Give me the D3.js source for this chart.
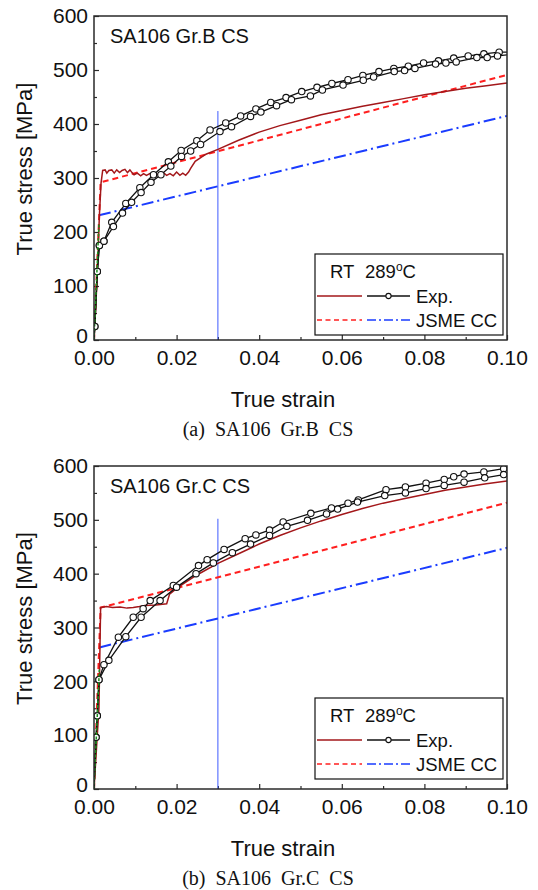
<!DOCTYPE html>
<html>
<head>
<meta charset="utf-8">
<script src="https://cdn.jsdelivr.net/npm/d3@7"></script>
<style>
  body { margin: 0; background: #fff; }
  svg { display: block; }
  text { font-family: "Liberation Sans", Arial, sans-serif; fill: #111; }
</style>
</head>
<body>
<div id="chart"></div>
<script>
// axis ticks
const strainTicks = [0, 0.02, 0.04, 0.06, 0.08, 0.10];
const strainMinor = [0.01, 0.03, 0.05, 0.07, 0.09];
const stressTicks = [0, 100, 200, 300, 400, 500, 600];
const stressMinor = [50, 150, 250, 350, 450, 550];

// (a) SA106 Gr.B CS  -- [strain, stress MPa]
const gradeB_rtExp = [[0,0],[0.0008,120],[0.0013,230],[0.0017,290],[0.0021,314],[0.0027,315],[0.0031,309],[0.0036,314],[0.0043,315],[0.0049,309],[0.0055,315],[0.0062,310],[0.0068,314],[0.0075,316],[0.0081,310],[0.0087,315],[0.0092,310],[0.0097,306],[0.0105,309],[0.0113,304],[0.012,308],[0.0127,305],[0.0135,308],[0.0143,304],[0.015,308],[0.0158,305],[0.0168,310],[0.0176,305],[0.0184,308],[0.0192,304],[0.02,311],[0.0208,305],[0.0215,309],[0.0222,305],[0.0229,311],[0.0234,318],[0.0245,331],[0.0271,344],[0.03,353],[0.035,370],[0.04,385],[0.045,397],[0.05,407],[0.055,417],[0.06,425],[0.065,433],[0.07,440],[0.075,447],[0.08,454],[0.085,460],[0.09,466],[0.095,471],[0.1,476]];
const gradeB_hotExp1 = [[0,0],[0.0002,25],[0.0008,127],[0.0013,175],[0.0024,183],[0.0043,218],[0.0077,253],[0.0111,282],[0.0144,306],[0.018,330],[0.0211,351],[0.0249,369],[0.0281,389],[0.0319,402],[0.0355,415],[0.0392,428],[0.0428,440],[0.0465,449],[0.0503,460],[0.054,468],[0.0576,475],[0.0615,482],[0.0651,490],[0.069,497],[0.0726,503],[0.0761,507],[0.0798,513],[0.0834,517],[0.0871,522],[0.0906,526],[0.0944,530],[0.0981,533],[0.1,533]];
const gradeB_hotExp2 = [[0,0],[0.0002,25],[0.0008,127],[0.0013,175],[0.0024,183],[0.0047,210],[0.0069,235],[0.0091,255],[0.0114,273],[0.0138,292],[0.0162,306],[0.0186,322],[0.0212,340],[0.0234,350],[0.0258,362],[0.0305,386],[0.0333,395],[0.0379,414],[0.0404,422],[0.0442,434],[0.0478,445],[0.0524,452],[0.0553,463],[0.0603,472],[0.0652,481],[0.0677,487],[0.0727,497],[0.0752,499],[0.0777,503],[0.0827,511],[0.0852,513],[0.0877,515],[0.0927,523],[0.0952,523],[0.0977,526],[0.1,528]];
const gradeB_rtJsme = [[0,0],[0.0016,292],[0.1,491]];
const gradeB_hotJsme = [[0.0012,231],[0.1,415]];
const gradeB_elastic = [[0,0],[0.0012,215]];
const gradeB_cutoffTop = 424;

// (b) SA106 Gr.C CS
const gradeC_rtExp = [[0,0],[0.0012,150],[0.0016,337],[0.003,339],[0.0045,337],[0.0063,338],[0.008,336],[0.0095,337],[0.011,339],[0.0123,341],[0.015,342],[0.0176,344],[0.0183,362],[0.0204,375],[0.025,398],[0.03,419],[0.035,437],[0.04,455],[0.045,471],[0.05,485],[0.055,498],[0.06,510],[0.065,521],[0.07,531],[0.075,539],[0.08,547],[0.085,555],[0.09,561],[0.095,567],[0.1,572]];
const gradeC_hotExp1 = [[0,0],[0.0005,96],[0.0008,136],[0.0012,203],[0.0024,231],[0.0059,282],[0.0095,319],[0.0119,335],[0.0136,350],[0.0192,378],[0.0253,415],[0.0274,426],[0.0315,445],[0.0366,465],[0.0392,472],[0.0425,481],[0.0458,496],[0.0525,512],[0.0575,522],[0.0615,531],[0.064,537],[0.0707,556],[0.0754,561],[0.0804,568],[0.0848,575],[0.0871,580],[0.0896,585],[0.0944,589],[0.0992,595],[0.1,597]];
const gradeC_hotExp2 = [[0,0],[0.0005,96],[0.0008,136],[0.0012,203],[0.0036,239],[0.0077,283],[0.0114,319],[0.016,350],[0.02,375],[0.0247,400],[0.0289,420],[0.0335,439],[0.0379,455],[0.0425,471],[0.0467,488],[0.0517,499],[0.0563,511],[0.059,520],[0.0638,533],[0.0704,545],[0.0754,550],[0.0804,558],[0.0848,564],[0.0896,570],[0.0946,578],[0.0992,584],[0.1,585]];
const gradeC_rtJsme = [[0,0],[0.0016,337],[0.1,532]];
const gradeC_hotJsme = [[0.0013,263],[0.1,448]];
const gradeC_elastic = [[0,0],[0.0013,222]];
const gradeC_cutoffTop = 502;

const cutoffStrain = 0.03;

const panels = [
  {top: 16, bottom: 340, title: 'SA106 Gr.B CS', caption: '(a)  SA106  Gr.B  CS', legendGap: 5,
   rtExp: gradeB_rtExp, hot1: gradeB_hotExp1, hot2: gradeB_hotExp2, rtJsme: gradeB_rtJsme,
   hotJsme: gradeB_hotJsme, elastic: gradeB_elastic, cutoffTop: gradeB_cutoffTop},
  {top: 466, bottom: 789, title: 'SA106 Gr.C CS', caption: '(b)  SA106  Gr.C  CS', legendGap: 10,
   rtExp: gradeC_rtExp, hot1: gradeC_hotExp1, hot2: gradeC_hotExp2, rtJsme: gradeC_rtJsme,
   hotJsme: gradeC_hotJsme, elastic: gradeC_elastic, cutoffTop: gradeC_cutoffTop}
];

const width = 538, height = 890;
const left = 94, right = 507;
const colors = {rt: '#a3171a', hot: '#111', rtJsme: '#ff1f1f', hotJsme: '#1a3cff', cut: '#3d5bff', green: '#1b8f1b', frame: '#2a2a2a'};

const svg = d3.select('#chart').append('svg')
  .attr('width', width)
  .attr('height', height);

const x = d3.scaleLinear().domain([0, 0.1]).range([left, right]);

panels.forEach((p, pi) => {
  const y = d3.scaleLinear().domain([0, 600]).range([p.bottom, p.top]);
  const g = svg.append('g');

  const clipId = 'clip' + pi;
  g.append('clipPath').attr('id', clipId)
    .append('rect')
    .attr('x', left).attr('y', p.top)
    .attr('width', right - left).attr('height', p.bottom - p.top);

  // axes, ticks pointing inward
  g.append('g').attr('transform', `translate(0,${p.bottom})`)
    .call(d3.axisBottom(x).tickValues(strainTicks).tickSize(-5).tickPadding(10).tickFormat(d3.format('.2f')));
  g.append('g').attr('transform', `translate(0,${p.bottom})`)
    .call(d3.axisBottom(x).tickValues(strainMinor).tickSize(-3).tickFormat(''));
  const yAxis = g.append('g').attr('transform', `translate(${left},0)`)
    .call(d3.axisLeft(y).tickValues(stressTicks).tickSize(-5).tickPadding(6).tickFormat(d3.format('d')));
  g.append('g').attr('transform', `translate(${left},0)`)
    .call(d3.axisLeft(y).tickValues(stressMinor).tickSize(-3).tickFormat(''));

  g.selectAll('.domain').remove();
  g.selectAll('.tick line').attr('stroke', colors.frame).attr('stroke-width', 1.2);
  g.selectAll('.tick text').style('font-size', '21px').attr('fill', '#111');
  // the "0" sits right on the corner, lift it a little off the 0.00 label
  yAxis.selectAll('.tick text').filter(d => d === 0).attr('dy', '0.1em');

  // axis titles
  g.append('text')
    .attr('x', 283).attr('y', p.bottom + 67)
    .attr('text-anchor', 'middle')
    .style('font-size', '22px')
    .text('True strain');
  g.append('text')
    .attr('transform', `translate(32,${(p.top + p.bottom) / 2 - 9}) rotate(-90)`)
    .attr('text-anchor', 'middle')
    .style('font-size', '22px')
    .text('True stress [MPa]');

  // caption under each panel
  g.append('text')
    .attr('x', 268).attr('y', p.bottom + 96)
    .attr('text-anchor', 'middle')
    .style('font-family', '"Liberation Serif", "Times New Roman", serif')
    .style('font-size', '20px')
    .style('white-space', 'pre')
    .text(p.caption);

  const plot = g.append('g').attr('clip-path', `url(#${clipId})`);
  const line = d3.line().x(d => x(d[0])).y(d => y(d[1]));

  // 3% strain guide
  plot.append('line')
    .attr('x1', x(cutoffStrain)).attr('x2', x(cutoffStrain))
    .attr('y1', y(0)).attr('y2', y(p.cutoffTop))
    .attr('stroke', colors.cut).attr('stroke-width', 1);

  plot.append('path').datum(p.hotJsme)
    .attr('d', line).attr('fill', 'none')
    .attr('stroke', colors.hotJsme).attr('stroke-width', 2)
    .attr('stroke-dasharray', '12,4,2,4');

  plot.append('path').datum(p.rtJsme)
    .attr('d', line).attr('fill', 'none')
    .attr('stroke', colors.rtJsme).attr('stroke-width', 2)
    .attr('stroke-dasharray', '6,4');

  plot.append('path').datum(p.rtExp)
    .attr('d', line).attr('fill', 'none')
    .attr('stroke', colors.rt).attr('stroke-width', 1.5);

  [p.hot1, p.hot2].forEach(s => {
    plot.append('path').datum(s)
      .attr('d', line).attr('fill', 'none')
      .attr('stroke', colors.hot).attr('stroke-width', 1.3);
  });
  [p.hot1, p.hot2].forEach(s => {
    plot.selectAll(null)
      .data(s.slice(1, -1))
      .enter().append('circle')
      .attr('cx', d => x(d[0])).attr('cy', d => y(d[1]))
      .attr('r', 3.2)
      .attr('fill', '#fff').attr('stroke', colors.hot).attr('stroke-width', 1.1);
  });

  plot.append('path').datum(p.elastic)
    .attr('d', line).attr('fill', 'none')
    .attr('stroke', colors.green).attr('stroke-width', 1.5)
    .attr('stroke-dasharray', '3,1.5');

  // frame
  g.append('rect')
    .attr('x', left).attr('y', p.top)
    .attr('width', right - left).attr('height', p.bottom - p.top)
    .attr('fill', 'none').attr('stroke', colors.frame).attr('stroke-width', 1.5);

  // title inside plot
  g.append('text')
    .attr('x', left + 16).attr('y', p.top + 26.5)
    .style('font-size', '20px')
    .text(p.title);

  // legend
  const lx = 315, lw = 188, lh = 81;
  const ly = p.bottom - p.legendGap - lh;
  const lg = g.append('g').attr('transform', `translate(${lx},${ly})`);
  lg.append('rect')
    .attr('width', lw).attr('height', lh)
    .attr('fill', '#fff').attr('stroke', '#111').attr('stroke-width', 1.2);

  const head = lg.append('text').attr('x', 15).attr('y', 24).style('font-size', '18.5px');
  head.append('tspan').text('RT');
  head.append('tspan').attr('x', 50).text('289');
  head.append('tspan').attr('dy', -7).style('font-size', '12px').text('o');
  head.append('tspan').attr('dy', 7).text('C');

  lg.append('line').attr('x1', 2).attr('x2', 47).attr('y1', 42).attr('y2', 42)
    .attr('stroke', colors.rt).attr('stroke-width', 1.5);
  lg.append('line').attr('x1', 52).attr('x2', 95).attr('y1', 42).attr('y2', 42)
    .attr('stroke', colors.hot).attr('stroke-width', 1.3);
  lg.append('circle').attr('cx', 73.5).attr('cy', 42).attr('r', 2.6)
    .attr('fill', '#fff').attr('stroke', colors.hot).attr('stroke-width', 1.1);
  lg.append('text').attr('x', 101).attr('y', 48.5).style('font-size', '18.5px').text('Exp.');

  lg.append('line').attr('x1', 2).attr('x2', 47).attr('y1', 66).attr('y2', 66)
    .attr('stroke', colors.rtJsme).attr('stroke-width', 1.5).attr('stroke-dasharray', '5,3.5');
  lg.append('line').attr('x1', 52).attr('x2', 95).attr('y1', 66).attr('y2', 66)
    .attr('stroke', colors.hotJsme).attr('stroke-width', 1.5).attr('stroke-dasharray', '9,3,2,3');
  lg.append('text').attr('x', 101).attr('y', 73).style('font-size', '18.5px').text('JSME CC');
});
</script>
</body>
</html>
